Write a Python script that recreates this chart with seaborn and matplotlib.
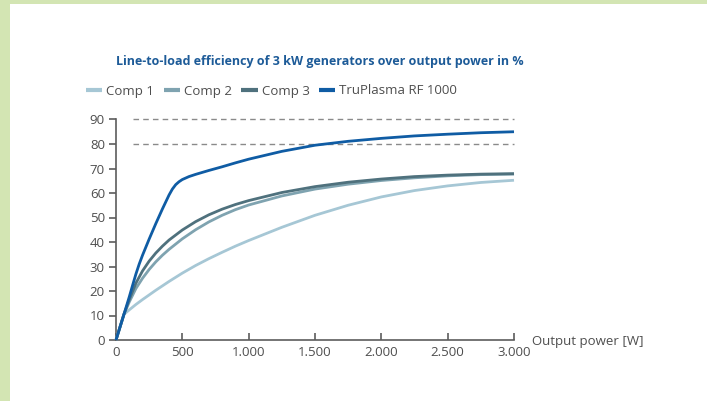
import numpy as np
import pandas as pd
import matplotlib
matplotlib.use('Agg')
import matplotlib.pyplot as plt
import seaborn as sns
from matplotlib.patches import Rectangle

# Values (efficiency in % over output power in W)
truplasma_w = [0, 60, 100, 125, 150, 175, 200, 250, 300, 350, 400, 425, 450, 475,
               500, 550, 600, 700, 800, 900, 1000, 1250, 1500, 1750, 2000, 2250,
               2500, 2750, 3000]
truplasma_eff = [0, 10.5, 17.6, 22.3, 26.9, 31.0, 34.6, 41.2, 47.5, 53.5, 59.2,
                 61.6, 63.4, 64.6, 65.5, 66.7, 67.6, 69.2, 70.7, 72.3, 73.8, 77.0,
                 79.5, 81.1, 82.3, 83.3, 84.0, 84.6, 85.0]

comp_w = [0, 60, 100, 150, 200, 250, 300, 350, 400, 500, 600, 700, 800, 900,
          1000, 1250, 1500, 1750, 2000, 2250, 2500, 2750, 3000]
comp1_eff = [0, 10.5, 12.3, 14.5, 16.5, 18.4, 20.3, 22.1, 23.9, 27.3, 30.4, 33.2,
             35.8, 38.3, 40.6, 46.0, 50.9, 55.0, 58.4, 61.0, 62.9, 64.3, 65.2]
comp2_eff = [0, 10.5, 15.5, 21.0, 25.2, 28.8, 31.9, 34.6, 37.0, 41.3, 45.0, 48.2,
             50.9, 53.2, 55.1, 58.8, 61.6, 63.6, 65.1, 66.2, 67.0, 67.5, 67.7]
comp3_eff = [0, 10.5, 16.5, 23.2, 28.2, 32.2, 35.5, 38.3, 40.8, 44.9, 48.3, 51.1,
             53.4, 55.3, 56.9, 60.2, 62.6, 64.4, 65.7, 66.7, 67.3, 67.7, 67.9]

series_names = ['Comp 1', 'Comp 2', 'Comp 3', 'TruPlasma RF 1000']
series_colors = ['#a6c7d5', '#7fa3b0', '#4f717d', '#0f5ca4']

ref_levels = [80, 90]
ref_start = 125

x_ticks = [0, 500, 1000, 1500, 2000, 2500, 3000]
x_tick_labels = ['0', '500', '1.000', '1.500', '2.000', '2.500', '3.000']
y_ticks = [0, 10, 20, 30, 40, 50, 60, 70, 80, 90]

title = 'Line-to-load efficiency of 3 kW generators over output power in %'
x_label = 'Output power [W]'

# long-form table for seaborn
frames = []
for name, w, eff in [('Comp 1', comp_w, comp1_eff),
                     ('Comp 2', comp_w, comp2_eff),
                     ('Comp 3', comp_w, comp3_eff),
                     ('TruPlasma RF 1000', truplasma_w, truplasma_eff)]:
    frames.append(pd.DataFrame({'power': w, 'efficiency': eff, 'series': name}))
data = pd.concat(frames, ignore_index=True)

sns.set_style('ticks')
plt.rcParams['font.family'] = ['Open Sans', 'DejaVu Sans']

text_color = '#4e4e4e'
axis_color = '#5c5c5c'
green = '#d3e5b3'

fig = plt.figure(figsize=(7.07, 4.01), dpi=100)
fig.patch.set_facecolor('white')
# green frame strips on the left and top
fig.patches.append(Rectangle((0, 0), 10 / 707, 1, transform=fig.transFigure,
                             facecolor=green, edgecolor='none', zorder=0))
fig.patches.append(Rectangle((0, 1 - 4 / 401), 1, 4 / 401, transform=fig.transFigure,
                             facecolor=green, edgecolor='none', zorder=0))

ax = fig.add_axes([116 / 707, 61 / 401, 398 / 707, 220.5 / 401])

refs = ax.hlines(ref_levels, ref_start, 3000, colors='#8a8a8a',
                 linestyles=(0, (4, 3)), linewidth=1.0, zorder=1)
refs.set_clip_on(False)

sns.lineplot(data=data, x='power', y='efficiency', hue='series',
             hue_order=series_names, palette=series_colors, linewidth=2.0,
             estimator=None, sort=False, legend=False, ax=ax, zorder=3)
for line in ax.lines:
    line.set_clip_on(False)
    line.set_solid_capstyle('butt')
    line.set_solid_joinstyle('round')

ax.set_xlim(0, 3000)
ax.set_ylim(0, 90)
ax.set_xticks(x_ticks)
ax.set_xticklabels(x_tick_labels)
ax.set_yticks(y_ticks)
ax.set_xlabel('')
ax.set_ylabel('')

sns.despine(ax=ax)
for side in ['left', 'bottom']:
    ax.spines[side].set_color(axis_color)
    ax.spines[side].set_linewidth(1.2)
ax.tick_params(axis='y', direction='out', length=5, width=1.2, color=axis_color,
               labelcolor=text_color, labelsize=9.5, pad=3)
ax.tick_params(axis='x', direction='in', length=5, width=1.2, color=axis_color,
               labelcolor=text_color, labelsize=9.5, pad=4)

fig.text(532 / 707, 1 - 341 / 401, x_label, ha='left', va='center',
         fontsize=9.5, color=text_color)

fig.text(116 / 707, 1 - 62 / 401, title, ha='left', va='center',
         fontsize=9.0, fontweight='bold', color='#1d5b98')

handles = [plt.Line2D([], [], color=c, linewidth=3.0, solid_capstyle='butt')
           for c in series_colors]
leg = fig.legend(handles, series_names, loc='center left',
                 bbox_to_anchor=(86 / 707, 1 - 91 / 401), ncol=4, frameon=False,
                 fontsize=9.5, handlelength=1.25, handletextpad=0.3,
                 columnspacing=0.7, borderpad=0, borderaxespad=0)
for t in leg.get_texts():
    t.set_color(text_color)

fig.savefig('out.png', dpi=100, facecolor='white')
